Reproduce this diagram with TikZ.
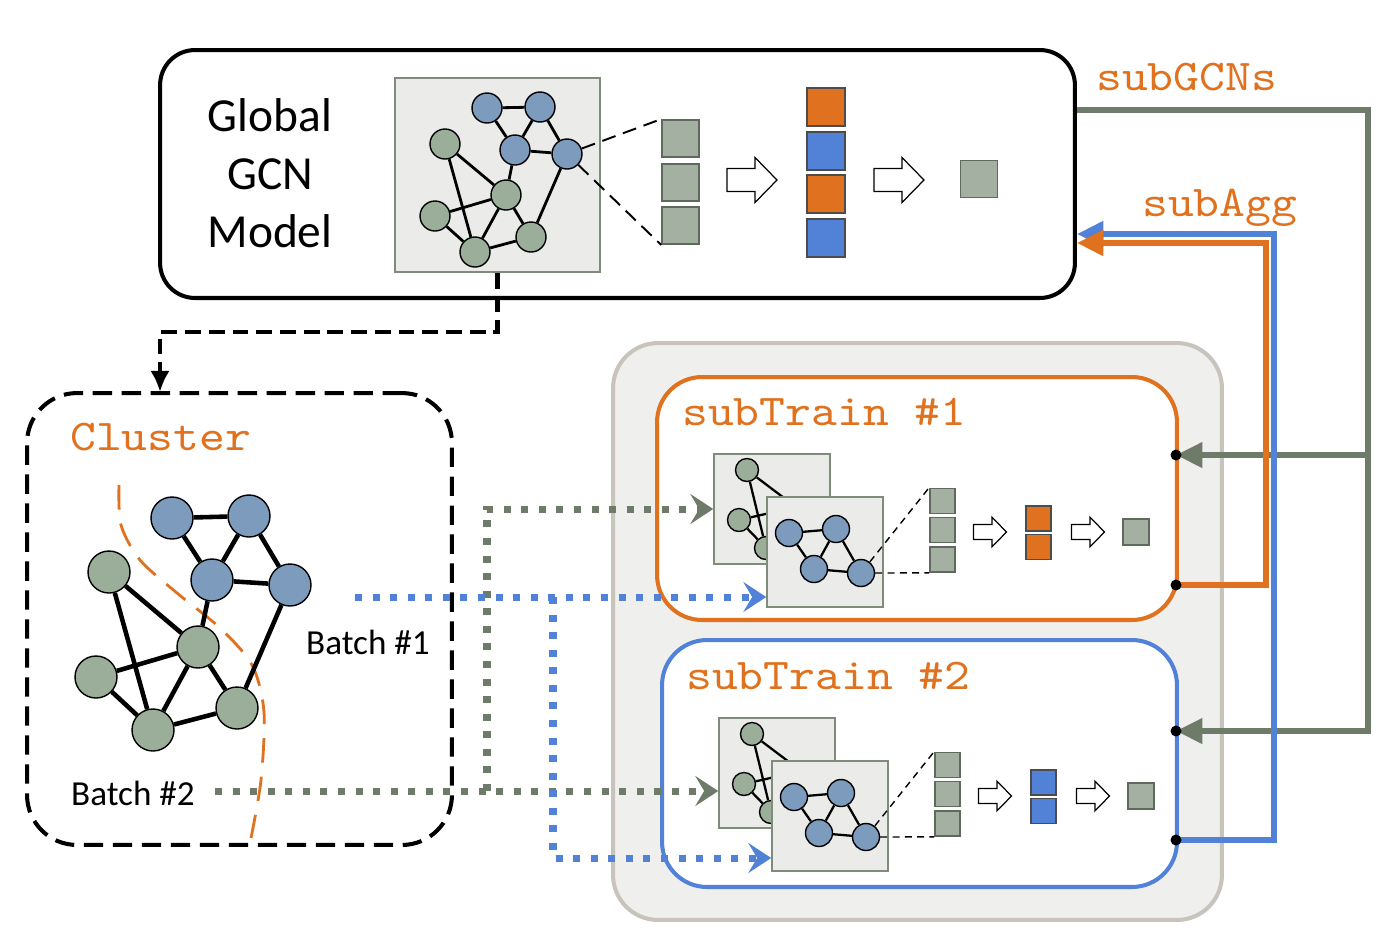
\documentclass[tikz,border=0pt]{standalone}
\usepackage{fontspec}
\setmainfont{Carlito}
\newfontfamily\codefont[FakeStretch=1.12]{lmmono10-regular.otf}
\usetikzlibrary{arrows.meta}
\definecolor{aggorange}{HTML}{E0721F}
\definecolor{aggblue}{HTML}{5282D8}
\definecolor{nodegreen}{HTML}{9AAE9A}
\definecolor{nodeblue}{HTML}{7D9CBD}
\definecolor{panelfill}{HTML}{EBEBEA}
\definecolor{panelline}{HTML}{7E8C7A}
\definecolor{featfill}{HTML}{A4B0A1}
\definecolor{featline}{HTML}{5E6A5C}
\definecolor{linegray}{HTML}{6F7B69}
\definecolor{poolfill}{HTML}{EFEFEE}
\definecolor{poolline}{HTML}{C8C4BC}

\tikzset{
  gnode/.style={circle,draw=black,line width=0.8pt,fill=nodegreen,inner sep=0pt,minimum size=#1},
  bnode/.style={gnode=#1,fill=nodeblue},
  feat/.style={draw=featline,fill=featfill,line width=1pt,inner sep=0pt,minimum size=#1},
  colfeat/.style={draw=black!70,fill=#1,line width=0.8pt,inner sep=0pt},
  panel/.style={draw=panelline,fill=panelfill,line width=0.9pt,inner sep=0pt},
  title/.style={anchor=west,text=aggorange,font=\codefont\fontsize{25}{26}\selectfont},
  batch/.style={font=\fontsize{20}{22}\selectfont},
  thindash/.style={line width=0.8pt,dash pattern=on 4pt off 3pt},
  dotlink/.style={line width=4pt,dash pattern=on 4pt off 6pt,draw=#1,-{Stealth[length=13pt,width=17pt,inset=5pt]}},
  sideline/.style={line width=#1,-{Triangle[length=15pt,width=14pt]}},
  hollow/.pic={\draw[line width=0.7pt,fill=white] (-25,-11.5) -- (3,-11.5) -- (3,-22.5) -- (25,0) -- (3,22.5) -- (3,11.5) -- (-25,11.5) -- cycle;}
}

\begin{document}
\begin{tikzpicture}[x=0.02cm,y=-0.02cm]
\useasboundingbox (0,0) rectangle (1400,938);

% global model
\node[draw,line width=2.3pt,rounded corners=0.7cm,minimum width=18.3cm,minimum height=4.96cm] (global) at (617.5,174) {};
\node[align=center,font=\fontsize{27}{33}\selectfont] (gtext) at (270,173) {Global\\GCN\\Model};

% global graph
\node[panel,minimum width=4.1cm,minimum height=3.88cm] (gpanel) at (497.5,175) {};
\foreach \n/\x/\y in {e/445/144,f/506/195,g/435/216,h/475/252,i/531/237}
  \node[gnode=0.6cm] (g\n) at (\x,\y) {};
\foreach \n/\x/\y in {a/487/108,b/540/107,c/515/150,d/567/154}
  \node[bnode=0.6cm] (g\n) at (\x,\y) {};
\foreach \u/\v in {a/b,a/c,b/c,b/d,c/d,c/f,d/i,e/f,e/h,g/f,g/h,f/h,f/i,h/i}
  \draw[line width=1.6pt] (g\u) -- (g\v);

% global features
\foreach \k/\y in {1/138.5,2/182.5,3/225.5}
  \node[feat=0.74cm] (gf\k) at (680.5,\y) {};
\draw[line width=1.1pt,dash pattern=on 8pt off 4.5pt] (gd) -- (gf1.north west);
\draw[line width=1.1pt,dash pattern=on 8pt off 4.5pt] (gd) -- (gf3.south west);
\pic at (752,180) {hollow};
\foreach \k/\y/\c in {1/107/aggorange,2/151/aggblue,3/194/aggorange,4/238/aggblue}
  \node[colfeat=\c,minimum size=0.76cm] (gc\k) at (826,\y) {};
\pic at (899,180) {hollow};
\node[feat=0.74cm] (gout) at (979,179) {};

% cluster
\node[draw,line width=2.3pt,dash pattern=on 11pt off 5.5pt,rounded corners=1cm,minimum width=8.5cm,minimum height=9.04cm] (cluster) at (239.5,619) {};
\coordinate (cin) at (160,392);
\draw[line width=2.3pt,dash pattern=on 9pt off 4.5pt,-{Latex[length=12pt,width=11pt]}] (gpanel.south) -- (497.5,332) -- (160,332) -- (cin);
\node[title] (ctitle) at (64,437) {Cluster};

\draw[aggorange,line width=1.6pt,dash pattern=on 14pt off 8pt] plot[smooth] coordinates {(119,485) (121,525) (140,560) (177,593) (220,628) (252,665) (264,712) (261,780) (251,838)};
\foreach \n/\x/\y in {e/109/572,f/198/647,g/96/677,h/153/730,i/237/708}
  \node[gnode=0.84cm] (c\n) at (\x,\y) {};
\foreach \n/\x/\y in {a/172/518,b/249/516,c/212/580,d/290/585}
  \node[bnode=0.84cm] (c\n) at (\x,\y) {};
\foreach \u/\v in {a/b,a/c,b/c,b/d,c/d,c/f,d/i,e/f,e/h,g/f,g/h,f/h,f/i,h/i}
  \draw[line width=2.6pt] (c\u) -- (c\v);

\node[batch] (batch1) at (368,642) {Batch \#1};
\node[batch] (batch2) at (133,793) {Batch \#2};

% sub trainers
\node[draw=poolline,fill=poolfill,line width=2.3pt,rounded corners=0.9cm,minimum width=12.18cm,minimum height=11.54cm] (pool) at (917.5,631.5) {};
\node[draw=aggorange,fill=white,line width=2.3pt,rounded corners=0.9cm,minimum width=10.4cm,minimum height=4.86cm] (s1box) at (917,498.5) {};
\node[draw=aggblue,fill=white,line width=2.3pt,rounded corners=0.9cm,minimum width=10.3cm,minimum height=4.94cm] (s2box) at (919.5,763.5) {};
\node[title] (s1title) at (676,412) {subTrain \#1};
\node[title] (s2title) at (680,676) {subTrain \#2};

\foreach \k/\dx/\dy/\c in {1/0/0/aggorange,2/5/264/aggblue}{
\begin{scope}[shift={(\dx,\dy)}]
  % back subgraph
  \node[panel,minimum width=2.32cm,minimum height=2.2cm] (s\k back) at (772,509) {};
  \coordinate (s\k hid) at (796,507);
  \node[gnode=0.46cm] (s\k p) at (747,470) {};
  \node[gnode=0.46cm] (s\k q) at (739,520) {};
  \node[gnode=0.46cm] (s\k r) at (766,548) {};
  \draw[line width=1.3pt] (s\k p) -- (s\k r) (s\k p) -- (s\k hid) (s\k q) -- (s\k hid) (s\k q) -- (s\k r);
  % front subgraph
  \node[panel,minimum width=2.32cm,minimum height=2.2cm] (s\k front) at (825,552) {};
  \foreach \n/\x/\y in {a/789/533,b/836/529,c/814/569,d/861/573}
    \node[bnode=0.54cm] (s\k\n) at (\x,\y) {};
  \foreach \u/\v in {a/b,a/c,b/c,b/d,c/d}
    \draw[line width=1.3pt] (s\k\u) -- (s\k\v);
  % features
  \foreach \j/\y in {1/501,2/530,3/559.5}
    \node[feat=0.5cm] (s\k f\j) at (942.5,\y) {};
  \draw[thindash] (s\k d) -- (s\k f1.north west);
  \draw[thindash] (s\k d) -- (s\k f3.south west);
  \pic[scale=0.66] at (990,532) {hollow};
  \node[colfeat=\c,minimum size=0.5cm] (s\k c1) at (1038.5,518.5) {};
  \node[colfeat=\c,minimum size=0.5cm] (s\k c2) at (1038.5,547) {};
  \pic[scale=0.66] at (1088,532) {hollow};
  \node[feat=0.52cm] (s\k out) at (1136,532) {};
\end{scope}}

% batches to trainers
\coordinate (b1out) at (355,597);
\coordinate (b1split) at (553,597);
\coordinate (b1turn) at (553,858);
\coordinate (b2out) at (215,791);
\coordinate (b2split) at (487,791);
\coordinate (b2turn) at (487,509);
\draw[dotlink=linegray] (b2out) -- (s2back.west |- b2out);
\draw[dotlink=linegray] (b2split) -- (b2turn) -- (s1back.west |- b2turn);
\draw[dotlink=aggblue] (b1out) -- (s1front.west |- b1out);
\draw[dotlink=aggblue] (b1split) -- (b1turn) -- (s2front.west |- b1turn);

% subGCNs and subAgg
\coordinate (s1top) at (1176,455);
\coordinate (s1bot) at (1176,585);
\coordinate (s2top) at (1176,731);
\coordinate (s2bot) at (1176,840);
\draw[sideline=3pt,linegray] (global.east |- 0,110) -- (1368,110) -- (1368,731) -- (s2top);
\draw[sideline=3pt,linegray] (1368,455) -- (s1top);
\draw[sideline=3.4pt,aggblue] (s2bot) -- (1274,840) -- (1274,234) -- (global.east |- 0,234);
\draw[sideline=3.4pt,aggorange] (s1bot) -- (1266,585) -- (1266,243) -- (global.east |- 0,243);
\foreach \p in {s1top,s1bot,s2top,s2bot}
  \fill (\p) circle (5.5);
\node[title] (gcnlabel) at (1090,77) {subGCNs};
\node[title] (agglabel) at (1136,208) {subAgg};

\end{tikzpicture}
\end{document}
